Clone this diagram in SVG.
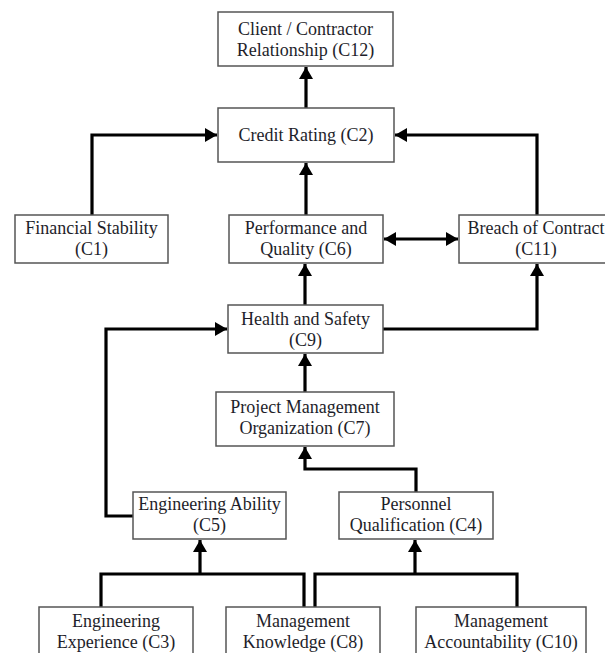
<svg xmlns="http://www.w3.org/2000/svg" width="605" height="653" viewBox="0 0 605 653">
<style>
.box{fill:#fff;stroke:#555;stroke-width:1.5}
.t{font-family:"Liberation Serif","Times New Roman",serif;font-size:18px;fill:#1e1e2a;text-anchor:middle}
.c{fill:none;stroke:#000;stroke-width:3.2;stroke-linejoin:miter}
</style>
<defs>
<marker id="ah" viewBox="0 0 12 14" refX="12" refY="7" markerWidth="12" markerHeight="14" markerUnits="userSpaceOnUse" orient="auto-start-reverse">
<path d="M0,0 L12,7 L0,14 Z" fill="#000"/>
</marker>
</defs>
<rect width="605" height="653" fill="#fff"/>
<g id="connectors">
<path class="c" d="M306,108 V67" marker-end="url(#ah)"/>
<path class="c" d="M92,215 V135 H217" marker-end="url(#ah)"/>
<path class="c" d="M537,215 V135 H395" marker-end="url(#ah)"/>
<path class="c" d="M306,215 V163" marker-end="url(#ah)"/>
<path class="c" d="M384,239 H458" marker-start="url(#ah)" marker-end="url(#ah)"/>
<path class="c" d="M305,305 V264" marker-end="url(#ah)"/>
<path class="c" d="M383,329 H537 V264" marker-end="url(#ah)"/>
<path class="c" d="M305,392 V354" marker-end="url(#ah)"/>
<path class="c" d="M133,516 H106 V329 H227" marker-end="url(#ah)"/>
<path class="c" d="M416,492 V469 H305 V447" marker-end="url(#ah)"/>
<path class="c" d="M101,607 V574 H304 V607"/>
<path class="c" d="M200,574 V540" marker-end="url(#ah)"/>
<path class="c" d="M315,607 V574 H517 V607"/>
<path class="c" d="M415,574 V540" marker-end="url(#ah)"/>
</g>
<g id="C12"><rect class="box" x="218" y="12" width="175" height="54"/><text class="t" x="305.5" y="35">Client / Contractor</text><text class="t" x="305.5" y="56">Relationship (C12)</text></g>
<g id="C2"><rect class="box" x="218" y="108" width="176" height="54"/><text class="t" x="306" y="141">Credit Rating (C2)</text></g>
<g id="C1"><rect class="box" x="15" y="215" width="153" height="48"/><text class="t" x="91.5" y="234">Financial Stability</text><text class="t" x="91.5" y="255">(C1)</text></g>
<g id="C6"><rect class="box" x="229" y="215" width="154" height="48"/><text class="t" x="306" y="234">Performance and</text><text class="t" x="306" y="255">Quality (C6)</text></g>
<g id="C11"><rect class="box" x="459" y="215" width="156" height="48"/><text class="t" x="536" y="234">Breach of Contract</text><text class="t" x="536" y="255">(C11)</text></g>
<g id="C9"><rect class="box" x="228" y="305" width="155" height="48"/><text class="t" x="305.5" y="325">Health and Safety</text><text class="t" x="305.5" y="346">(C9)</text></g>
<g id="C7"><rect class="box" x="216" y="392" width="178" height="54"/><text class="t" x="305" y="413">Project Management</text><text class="t" x="305" y="434">Organization (C7)</text></g>
<g id="C5"><rect class="box" x="133" y="492" width="153" height="47"/><text class="t" x="209.5" y="510">Engineering Ability</text><text class="t" x="209.5" y="531">(C5)</text></g>
<g id="C4"><rect class="box" x="339" y="492" width="154" height="47"/><text class="t" x="416" y="510">Personnel</text><text class="t" x="416" y="531">Qualification (C4)</text></g>
<g id="C3"><rect class="box" x="39" y="607" width="154" height="60"/><text class="t" x="116" y="627">Engineering</text><text class="t" x="116" y="648">Experience (C3)</text></g>
<g id="C8"><rect class="box" x="226" y="607" width="154" height="60"/><text class="t" x="303" y="627">Management</text><text class="t" x="303" y="648">Knowledge (C8)</text></g>
<g id="C10"><rect class="box" x="416" y="607" width="170" height="60"/><text class="t" x="501" y="627">Management</text><text class="t" x="501" y="648">Accountability (C10)</text></g>
</svg>
